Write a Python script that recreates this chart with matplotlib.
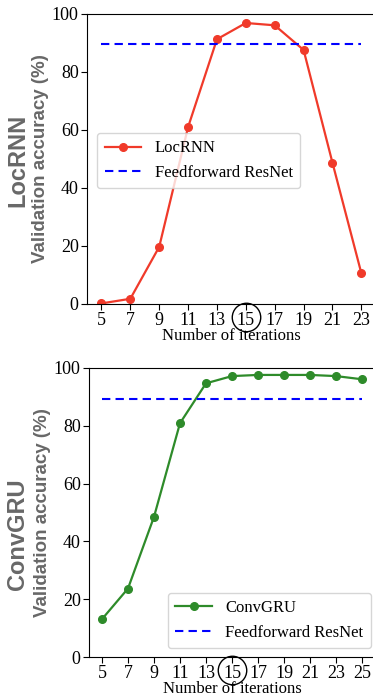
import matplotlib.pyplot as plt
import numpy as np
from matplotlib.transforms import blended_transform_factory

# dados
iters_loc = [5, 7, 9, 11, 13, 15, 17, 19, 21, 23]
acc_loc = [0.2, 1.8, 19.7, 61.0, 91.3, 96.9, 96.1, 87.6, 48.7, 10.6]
iters_gru = [5, 7, 9, 11, 13, 15, 17, 19, 21, 23, 25]
acc_gru = [13.1, 23.7, 48.5, 80.9, 94.7, 97.2, 97.6, 97.6, 97.6, 97.2, 96.1]
resnet_loc = 89.6
resnet_gru = 89.4
highlight = 15

serif = ['Liberation Serif', 'DejaVu Serif']
sans = ['Liberation Sans', 'DejaVu Sans']
gray = '#686868'

fig = plt.figure(figsize=(3.73, 7.0), dpi=100)
W, H = 373, 700


def add_axes(left, top, right, bottom):
    return fig.add_axes([left / W, 1 - bottom / H, (right - left) / W, (bottom - top) / H])


def draw_panel(ax, xs, ys, base, name, color, xlim, legend_loc, legend_anchor, name_y):
    ax.plot(xs, ys, '-o', color=color, lw=1.6, ms=5.5, label=name)
    ax.hlines(base, xs[0], xs[-1], colors='#0000ff', linestyles=(0, (4, 2.5)), lw=1.5,
              label='Feedforward ResNet')
    ax.set_xlim(*xlim)
    ax.set_ylim(0, 100)
    ax.set_xticks(xs)
    ax.set_yticks([0, 20, 40, 60, 80, 100])
    for lab in ax.get_xticklabels() + ax.get_yticklabels():
        lab.set_family(serif)
        lab.set_fontsize(13)
    ax.tick_params(length=4, width=0.8, pad=2)
    ax.set_xlabel('Number of iterations', family=serif, fontsize=12, labelpad=-1)
    ax.set_ylabel('Validation accuracy (%)', family=sans, fontsize=13.5,
                  fontweight='bold', color=gray, labelpad=2)
    fig.text(18 / W, 1 - name_y / H, name, rotation=90, ha='center', va='center',
             family=sans, fontsize=17, fontweight='bold', color=gray)
    leg = ax.legend(loc=legend_loc, bbox_to_anchor=legend_anchor, borderaxespad=0,
                    prop={'family': serif, 'size': 12},
                    handlelength=2.2, borderpad=0.45, labelspacing=0.5, fancybox=True)
    leg.get_frame().set_edgecolor('#cccccc')
    # circulo no rotulo 15
    tr = blended_transform_factory(ax.transData, ax.transAxes)
    ax.plot([highlight], [-0.045], marker='o', ms=20.5, mfc='none', mec='black', mew=1.0,
            transform=tr, clip_on=False)


ax1 = add_axes(87, 14, 87 + (24 - 4) * 14.44, 304)
draw_panel(ax1, iters_loc, acc_loc, resnet_loc, 'LocRNN', '#f03a2a', (4, 24),
           'upper left', (0.035, 0.59), 160)

ax2 = add_axes(89, 368, 89 + (26 - 4) * 13.0, 657)
draw_panel(ax2, iters_gru, acc_gru, resnet_gru, 'ConvGRU', '#2e8b2a', (4, 26),
           'lower left', (0.276, 0.031), 534)

fig.savefig('out.png', dpi=100)
